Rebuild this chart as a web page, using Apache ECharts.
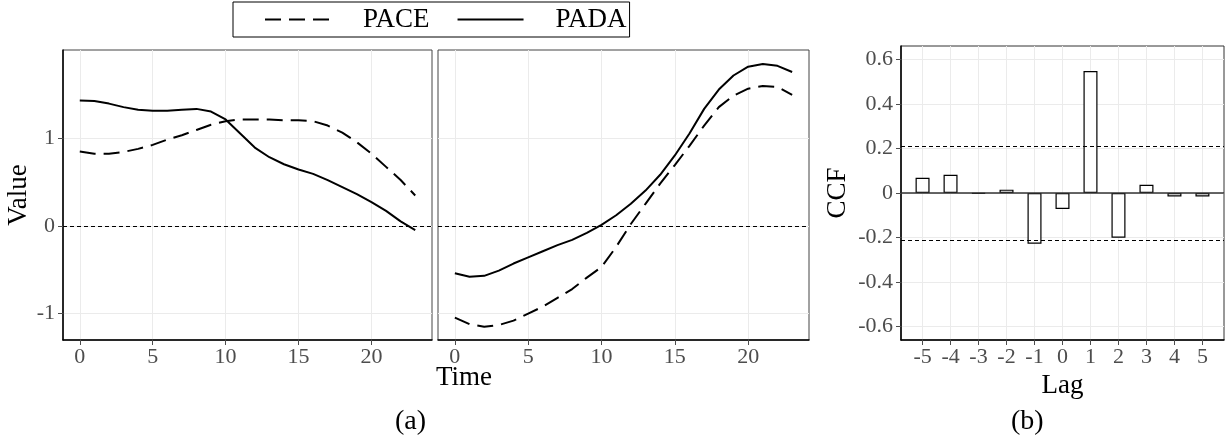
<!DOCTYPE html>
<html>
<head>
<meta charset="utf-8">
<script src="https://cdn.jsdelivr.net/npm/echarts@6/dist/echarts.min.js"></script>
<style>
  html, body { margin: 0; padding: 0; background: #fff; }
  #chart { width: 1230px; height: 445px; }
</style>
</head>
<body>
<div id="chart"></div>
<script>
// time axis for panel (a)
const times = [0, 1, 2, 3, 4, 5, 6, 7, 8, 9, 10, 11, 12, 13, 14, 15, 16, 17, 18, 19, 20, 21, 22, 23];

// left facet
const paceLeft = [0.845, 0.82, 0.82, 0.84, 0.875, 0.92, 0.98, 1.03, 1.09, 1.15, 1.19, 1.21,
  1.21, 1.21, 1.20, 1.20, 1.19, 1.14, 1.06, 0.95, 0.82, 0.67, 0.52, 0.345];
const padaLeft = [1.424, 1.42, 1.39, 1.35, 1.32, 1.31, 1.31, 1.32, 1.33, 1.30, 1.21, 1.05,
  0.89, 0.78, 0.70, 0.64, 0.59, 0.52, 0.44, 0.36, 0.27, 0.17, 0.05, -0.05];

// right facet
const paceRight = [-1.045, -1.12, -1.15, -1.13, -1.08, -1.0, -0.92, -0.82, -0.72, -0.59, -0.47, -0.24,
  0.02, 0.25, 0.48, 0.69, 0.91, 1.14, 1.35, 1.48, 1.56, 1.59, 1.58, 1.49];
const padaRight = [-0.54, -0.58, -0.57, -0.51, -0.43, -0.36, -0.29, -0.22, -0.16, -0.08, 0.01, 0.12,
  0.25, 0.40, 0.58, 0.80, 1.05, 1.33, 1.55, 1.71, 1.81, 1.84, 1.82, 1.75];

// panel (b)
const lags = [-5, -4, -3, -2, -1, 0, 1, 2, 3, 4, 5];
const ccfValues = [0.068, 0.082, -0.003, 0.015, -0.228, -0.072, 0.548, -0.201, 0.037, -0.016, -0.016];
const ciBound = 0.213;

const timeTicks = [0, 5, 10, 15, 20];
const valueTicks = [-1, 0, 1];
const ccfTicks = [-0.6, -0.4, -0.2, 0, 0.2, 0.4, 0.6];

const serif = 'Liberation Serif';
const tickGrey = '#4d4d4d';
const gridGrey = '#ebebeb';

const pairs = (xs, ys) => xs.map((x, i) => [x, ys[i]]);

const myChart = echarts.init(document.getElementById('chart'));

function timeAxis(gridIndex) {
  return {
    type: 'value', gridIndex, min: -1.15, max: 24.15,
    axisLine: {onZero: false, lineStyle: {color: '#000', width: 1.5}},
    axisTick: {show: true, length: 5, customValues: timeTicks, lineStyle: {color: tickGrey}},
    axisLabel: {customValues: timeTicks, margin: 6, color: tickGrey, fontFamily: serif, fontSize: 22},
    splitLine: {show: true, lineStyle: {color: gridGrey, width: 1}}
  };
}

function valueAxis(gridIndex, withLabels) {
  return {
    type: 'value', gridIndex, min: -1.3, max: 2.0,
    axisLine: {show: withLabels, onZero: false, lineStyle: {color: '#000', width: 1.5}},
    axisTick: {show: withLabels, length: 5, customValues: valueTicks, lineStyle: {color: tickGrey}},
    axisLabel: {show: withLabels, customValues: valueTicks, margin: 8, color: tickGrey, fontFamily: serif, fontSize: 22},
    splitLine: {show: true, lineStyle: {color: gridGrey, width: 1}},
    name: withLabels ? 'Value' : '',
    nameLocation: 'middle',
    nameGap: 30,
    nameTextStyle: {fontFamily: serif, fontSize: 27, color: '#000'}
  };
}

const zeroDashed = {
  silent: true, symbol: 'none', label: {show: false},
  lineStyle: {color: '#000', width: 1.2, type: [4, 3]},
  data: [{yAxis: 0}]
};

const paceStyle = {color: '#000', width: 2, type: [16, 8]};
const padaStyle = {color: '#000', width: 2, type: 'solid'};

const option = {
  animation: false,
  backgroundColor: '#fff',
  legend: {
    left: 233, top: 2,
    padding: [4, 3, 4, 31],
    borderColor: '#000', borderWidth: 1,
    itemWidth: 66, itemHeight: 14, itemGap: 27,
    itemStyle: {color: 'transparent', borderWidth: 0, opacity: 0},
    textStyle: {fontFamily: serif, fontSize: 27, color: '#000', padding: [0, 0, 0, 27]},
    data: ['PACE', 'PADA']
  },
  grid: [
    {left: 63, top: 50, width: 369, height: 290, show: true, borderColor: '#444', borderWidth: 1},
    {left: 438, top: 50, width: 371, height: 290, show: true, borderColor: '#444', borderWidth: 1},
    {left: 901, top: 46, width: 323, height: 294, show: true, borderColor: '#333', borderWidth: 1}
  ],
  xAxis: [
    timeAxis(0),
    timeAxis(1),
    {
      type: 'value', gridIndex: 2, min: -5.77, max: 5.77,
      axisLine: {onZero: false, lineStyle: {color: '#000', width: 1.5}},
      axisTick: {show: true, length: 5, customValues: lags, lineStyle: {color: tickGrey}},
      axisLabel: {customValues: lags, margin: 6, color: tickGrey, fontFamily: serif, fontSize: 22},
      splitLine: {show: true, lineStyle: {color: gridGrey, width: 1}},
      name: 'Lag', nameLocation: 'middle', nameGap: 26,
      nameTextStyle: {fontFamily: serif, fontSize: 27, color: '#000'}
    }
  ],
  yAxis: [
    valueAxis(0, true),
    valueAxis(1, false),
    {
      type: 'value', gridIndex: 2, min: -0.66, max: 0.66,
      axisLine: {onZero: false, lineStyle: {color: '#000', width: 1.5}},
      axisTick: {show: true, length: 5, customValues: ccfTicks, lineStyle: {color: tickGrey}},
      axisLabel: {customValues: ccfTicks, margin: 8, color: tickGrey, fontFamily: serif, fontSize: 22},
      splitLine: {show: true, lineStyle: {color: gridGrey, width: 1}},
      name: 'CCF', nameLocation: 'middle', nameGap: 50,
      nameTextStyle: {fontFamily: serif, fontSize: 27, color: '#000'}
    }
  ],
  graphic: [
    {type: 'text', left: 436, top: 364, style: {text: 'Time', fontFamily: serif, fontSize: 27, fill: '#000', textAlign: 'center'}},
    {type: 'text', left: 395, top: 408, style: {text: '(a)', fontFamily: serif, fontSize: 28, fill: '#000'}},
    {type: 'text', left: 1011, top: 408, style: {text: '(b)', fontFamily: serif, fontSize: 28, fill: '#000'}}
  ],
  series: [
    {
      name: 'PACE', type: 'line', xAxisIndex: 0, yAxisIndex: 0, symbol: 'none',
      lineStyle: paceStyle, itemStyle: {color: '#000'},
      data: pairs(times, paceLeft), markLine: zeroDashed
    },
    {
      name: 'PADA', type: 'line', xAxisIndex: 0, yAxisIndex: 0, symbol: 'none',
      lineStyle: padaStyle, itemStyle: {color: '#000'},
      data: pairs(times, padaLeft)
    },
    {
      name: 'PACE', type: 'line', xAxisIndex: 1, yAxisIndex: 1, symbol: 'none',
      lineStyle: paceStyle, itemStyle: {color: '#000'},
      data: pairs(times, paceRight), markLine: zeroDashed
    },
    {
      name: 'PADA', type: 'line', xAxisIndex: 1, yAxisIndex: 1, symbol: 'none',
      lineStyle: padaStyle, itemStyle: {color: '#000'},
      data: pairs(times, padaRight)
    },
    {
      name: 'CCF', type: 'bar', xAxisIndex: 2, yAxisIndex: 2, barWidth: 14,
      itemStyle: {color: '#fff', borderColor: '#000', borderWidth: 1.2},
      data: pairs(lags, ccfValues),
      markLine: {
        silent: true, symbol: 'none', label: {show: false},
        data: [
          {yAxis: 0, lineStyle: {color: '#333', width: 1.5, type: 'solid'}},
          {yAxis: ciBound, lineStyle: {color: '#000', width: 1.2, type: [4, 3]}},
          {yAxis: -ciBound, lineStyle: {color: '#000', width: 1.2, type: [4, 3]}}
        ]
      }
    }
  ]
};

myChart.setOption(option);
</script>
</body>
</html>
